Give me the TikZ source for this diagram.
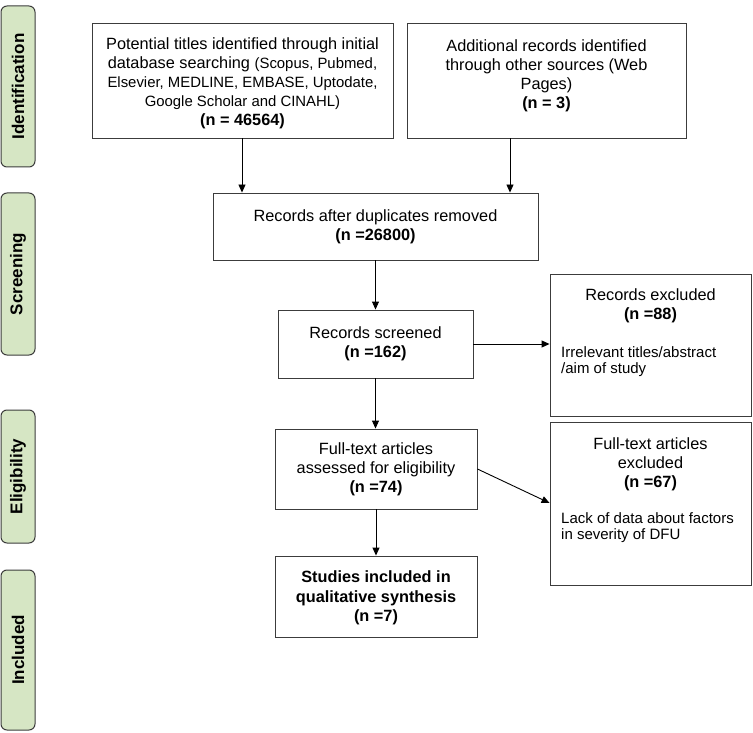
\documentclass[tikz,border=0pt]{standalone}
\usepackage{fontspec}
\setmainfont{Liberation Sans}
\usetikzlibrary{arrows.meta}
\definecolor{phasegreen}{RGB}{214,230,196}
\definecolor{boxline}{RGB}{60,60,60}
\begin{document}
\begin{tikzpicture}[x=1pt,y=-1pt,
  phase/.style={draw=boxline,line width=1pt,fill=phasegreen,rounded corners=6pt,
    minimum width=34pt,inner sep=0pt},
  phasetext/.style={rotate=90,font=\fontsize{17}{19}\selectfont\bfseries},
  box/.style={draw=boxline,line width=0.9pt,inner sep=0pt,align=center,
    font=\fontsize{16.3}{19}\selectfont},
  side/.style={draw=boxline,line width=0.9pt,inner sep=0pt},
  smalltxt/.style={font=\fontsize{15}{16.7}\selectfont,align=left,inner sep=0pt},
  arr/.style={-{Triangle[length=8pt,width=7pt]},line width=0.9pt,black}]
\useasboundingbox (0,0) rectangle (753,733);
% phase labels
\node[phase,minimum height=161pt] (pid) at (18,86.5) {};
\node[phasetext] (tid) at (pid) {Identification};
\node[phase,minimum height=162pt] (psc) at (18,274) {};
\node[phasetext] (tsc) at (psc) {Screening};
\node[phase,minimum height=133pt] (pel) at (18,476.5) {};
\node[phasetext] (tel) at (pel) {Eligibility};
\node[phase,minimum height=160pt] (pin) at (18,650) {};
\node[phasetext] (tin) at (pin) {Included};
% boxes
\node[side,minimum width=301pt,minimum height=115pt] (b1) at (242.5,80.5) {};
\node[box,draw=none] (t1) at (242.5,83)
  {Potential titles identified through initial\\
   database searching {\fontsize{14.9}{19}\selectfont(Scopus, Pubmed,}\\
   {\fontsize{14.9}{19}\selectfont Elsevier, MEDLINE, EMBASE, Uptodate,}\\
   {\fontsize{14.9}{19}\selectfont Google Scholar and CINAHL)}\\
   \textbf{(n = 46564)}};
\node[side,minimum width=279pt,minimum height=115pt] (b2) at (546.5,80.5) {};
\node[box,draw=none,anchor=north] (t2) at (546.5,39)
  {Additional records identified\\ through other sources (Web\\ Pages)\\ \textbf{(n = 3)}};
\node[box,minimum width=325pt,minimum height=67pt] (b3) at (375.5,226.5)
  {Records after duplicates removed\\ \textbf{(n =26800)}};
\node[box,minimum width=195pt,minimum height=68pt] (b4) at (375.5,344)
  {Records screened\\ \textbf{(n =162)}};
\node[side,minimum width=201pt,minimum height=142pt] (b5) at (650.5,345) {};
\node[box,draw=none,anchor=north] (t5a) at (650.5,288)
  {Records excluded\\ \textbf{(n =88)}};
\node[smalltxt,anchor=north west] (t5b) at (561,346)
  {Irrelevant titles/abstract\\ /aim of study};
\node[box,minimum width=202pt,minimum height=80pt] (b6) at (376,469)
  {Full-text articles\\ assessed for eligibility\\ \textbf{(n =74)}};
\node[side,minimum width=201pt,minimum height=163pt] (b7) at (650.5,503.5) {};
\node[box,draw=none,anchor=north] (t7a) at (650.5,437)
  {Full-text articles\\ excluded\\ \textbf{(n =67)}};
\node[smalltxt,anchor=north west] (t7b) at (561,512)
  {Lack of data about factors\\ in severity of DFU};
\node[side,minimum width=202pt,minimum height=81pt] (b8) at (376,596.5) {};
\node[box,draw=none,font=\fontsize{16.3}{19.5}\selectfont\bfseries] (t8) at (376,598)
  {Studies included in\\ qualitative synthesis\\ (n =7)};
% arrows
\draw[arr] (b1.south -| 242,0) -- (b3.north -| 242,0);
\draw[arr] (b2.south -| 510,0) -- (b3.north -| 510,0);
\draw[arr] (b3.south -| b4.north) -- (b4.north);
\draw[arr] (b4.east) -- (b5.west |- b4.east);
\draw[arr] (b4.south) -- (b6.north -| b4.south);
\draw[arr] (b6.east) -- (b5.west |- 0,503);
\draw[arr] (b6.south) -- (b8.north);
\end{tikzpicture}
\end{document}
